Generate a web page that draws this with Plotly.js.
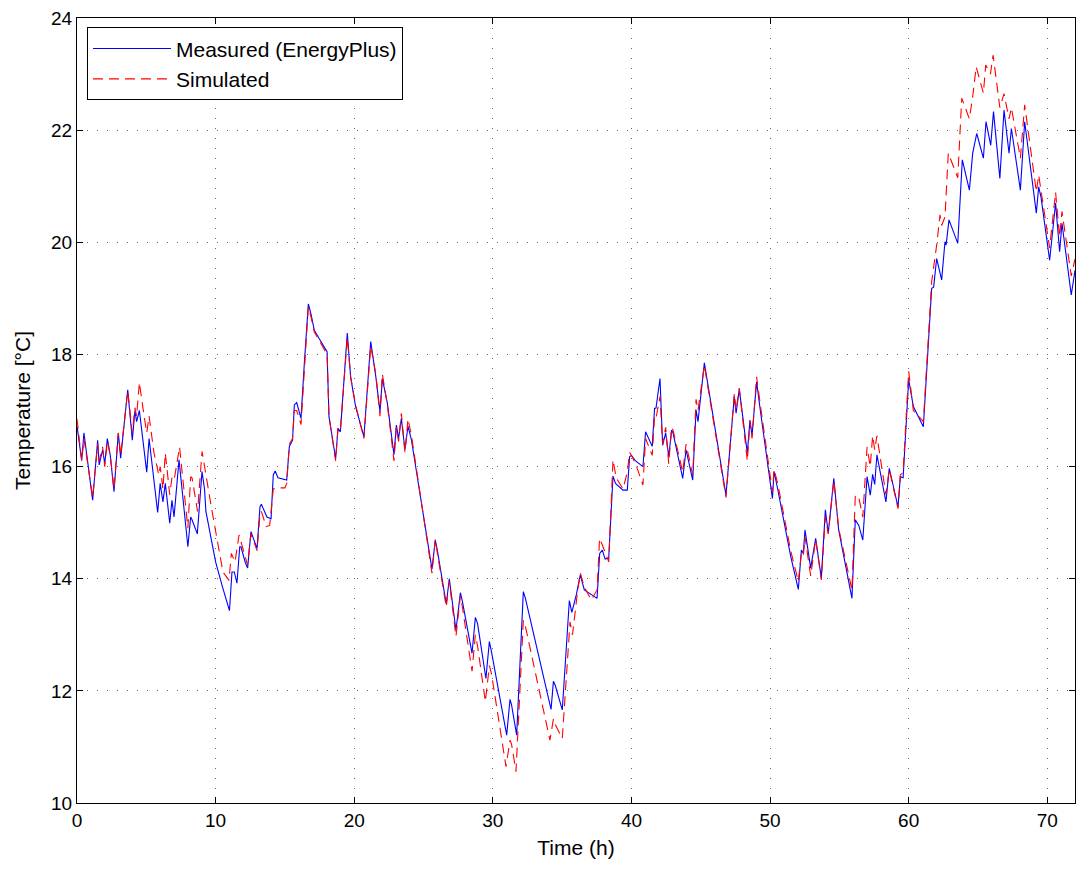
<!DOCTYPE html>
<html>
<head>
<meta charset="utf-8">
<script src="https://cdn.plot.ly/plotly-3.0.1.min.js"></script>
<style>html,body{margin:0;padding:0;background:#fff;}#chart{width:1078px;height:876px;}</style>
</head>
<body>
<div id="chart"></div>
<script>
const measuredTime = [0,0.34,0.5,1.13,1.49,1.6,1.85,2.0,2.19,2.4,2.67,2.98,3.15,3.66,3.99,4.18,4.3,4.5,5.03,5.2,5.82,6.0,6.2,6.37,6.69,6.85,7.0,7.36,8.0,8.2,8.3,8.68,9.02,9.2,9.3,10.0,10.5,11.0,11.18,11.35,11.54,11.74,11.83,12.14,12.31,12.55,12.99,13.2,13.3,13.7,14.0,14.16,14.3,14.5,15.13,15.32,15.55,15.68,15.85,16.16,16.4,16.69,16.9,17.12,17.48,18.04,18.18,18.42,18.66,18.83,19.0,19.5,19.74,20.1,20.7,21.19,21.56,21.86,22.03,22.39,22.87,23.04,23.2,23.4,23.66,23.88,24.13,25.61,25.85,26.0,26.64,26.86,27.34,27.66,27.8,28.5,28.74,28.9,29.5,29.75,29.9,31.0,31.24,31.35,31.72,32.2,32.35,34.2,34.37,34.5,35.01,35.52,35.7,36.02,36.31,36.6,37.52,37.71,37.9,38.1,38.36,38.67,38.85,39.39,39.7,39.87,40.0,40.3,40.83,41.02,41.5,41.67,41.77,42.06,42.25,42.47,42.69,42.9,43.0,43.7,43.94,44.42,44.66,44.8,45.26,46.82,47.42,47.55,47.78,48.36,48.55,48.7,49.03,49.3,50.17,50.29,50.55,51.49,52.04,52.26,52.4,52.52,52.93,53.29,53.7,53.99,54.2,54.6,54.95,55.91,56.15,56.4,56.69,57.0,57.23,57.4,57.55,57.71,58.36,58.6,59.23,59.4,59.6,60.0,60.34,61.06,61.66,61.8,62.02,62.38,62.62,62.7,62.91,63.54,63.87,64.38,64.62,64.91,65.39,65.58,65.92,66.12,66.58,66.88,67.24,67.41,68.06,68.37,69.21,69.38,69.55,70.17,70.6,70.89,71.06,71.73,72.0];
const measuredTemp = [16.72,16.11,16.6,15.4,16.47,16.03,16.3,16.05,16.5,16.2,15.55,16.6,16.15,17.37,16.47,17.0,16.8,17.0,15.9,16.5,15.18,15.7,15.37,15.7,14.99,15.4,15.1,16.12,14.57,15.1,15.05,14.8,15.91,15.6,15.2,14.3,13.85,13.43,14.12,14.12,13.92,14.57,14.57,14.29,14.19,14.84,14.54,15.28,15.33,15.1,15.07,15.85,15.92,15.8,15.76,16.36,16.47,17.1,17.14,16.86,17.84,18.9,18.7,18.43,18.28,18.05,16.89,16.47,16.14,16.68,16.62,18.38,17.6,17.07,16.53,18.23,17.6,16.98,17.57,17.13,16.21,16.74,16.5,16.86,16.3,16.72,16.47,14.17,14.69,14.5,13.55,14.0,13.08,13.75,13.6,12.67,13.31,13.2,12.22,12.88,12.7,11.21,11.85,11.75,11.21,13.77,13.65,11.67,12.17,12.1,11.66,13.61,13.4,13.71,14.07,13.8,13.65,14.45,14.51,14.35,14.37,15.83,15.7,15.58,15.58,16.18,16.2,16.1,16.0,16.62,16.36,17.04,17.04,17.57,16.38,16.6,16.18,16.65,16.6,15.79,16.3,15.76,17.01,16.8,17.85,15.49,17.25,16.95,17.38,16.24,16.83,16.55,17.51,17.0,15.43,15.91,15.6,14.4,13.81,14.51,14.45,14.87,14.19,14.72,14.01,15.23,14.81,15.79,14.87,13.65,15.05,14.95,14.69,15.82,15.49,15.86,15.68,16.21,15.37,15.97,15.28,15.82,15.8,17.55,17.07,16.71,19.18,19.2,19.71,19.33,20.01,19.95,20.4,19.98,21.47,20.93,21.59,21.94,21.5,22.15,21.73,22.33,21.14,22.36,21.59,22.03,20.93,22.15,20.52,20.99,20.8,19.68,20.7,19.83,20.34,19.06,19.5];

const simulatedTime = [0,0.34,0.5,1.13,1.49,1.6,1.85,2.0,2.19,2.4,2.67,2.98,3.15,3.66,3.99,4.18,4.3,4.5,4.8,5.03,5.2,5.55,5.9,6.0,6.2,6.37,6.69,6.85,7.0,7.4,8.0,8.2,8.3,8.7,9.02,9.2,9.69,10.53,10.97,11.13,11.4,11.69,11.9,12.3,12.55,12.99,13.2,13.3,13.65,13.9,14.16,14.4,15.0,15.13,15.32,15.55,15.68,15.85,16.16,16.4,16.69,16.9,17.12,17.48,18.04,18.18,18.42,18.66,18.83,19.0,19.5,19.74,20.1,20.7,21.19,21.56,21.86,22.03,22.39,22.87,23.04,23.2,23.4,23.66,23.88,24.13,25.61,25.85,26.0,26.64,26.86,27.34,27.66,27.8,28.5,28.74,28.9,29.46,29.75,29.9,30.95,31.24,31.35,31.67,32.2,32.35,34.12,34.37,34.5,35.01,35.57,35.75,36.1,36.31,36.6,37.1,37.52,37.7,37.9,38.36,38.67,38.9,39.39,39.7,39.87,40.0,40.3,40.83,41.02,41.5,41.67,41.77,42.06,42.25,42.47,42.69,42.9,43.0,43.7,43.94,44.42,44.66,44.8,45.26,46.82,47.42,47.55,47.78,48.36,48.55,48.7,49.03,49.3,50.17,50.29,50.55,51.49,52.04,52.26,52.4,52.52,52.93,53.29,53.7,53.99,54.2,54.6,54.95,55.91,56.15,56.4,56.69,57.0,57.23,57.4,57.55,57.71,58.36,58.6,59.23,59.4,59.6,60.0,60.34,61.06,61.66,62.02,62.26,62.38,62.62,62.86,63.54,63.83,64.38,64.62,64.87,65.39,65.56,65.9,66.09,66.58,66.88,67.24,67.41,68.06,68.37,69.21,69.38,70.17,70.6,70.89,71.06,71.73,72.0];
const simulatedTemp = [16.85,16.1,16.5,15.45,16.4,16.1,16.35,16.0,16.45,16.2,15.6,16.6,16.2,17.35,16.6,17.05,16.9,17.5,16.97,16.6,16.9,16.25,15.85,16.0,15.6,16.24,15.5,15.8,15.75,16.35,14.9,15.82,15.8,15.2,16.27,16.0,15.28,14.12,13.97,14.45,14.3,14.78,14.6,14.25,14.8,14.5,15.15,15.2,14.93,14.95,15.6,15.62,15.62,15.7,16.4,16.5,17.0,17.0,16.75,17.8,18.85,18.65,18.4,18.25,18.0,16.9,16.5,16.1,16.7,16.65,18.3,17.6,17.1,16.5,18.15,17.65,16.9,17.65,17.1,16.1,16.7,16.45,16.95,16.25,16.85,16.55,14.1,14.7,14.45,13.5,13.95,12.97,13.7,13.5,12.35,13.0,12.8,11.81,12.45,12.31,10.65,11.12,11.05,10.56,13.26,13.15,11.12,11.5,11.4,11.15,13.23,13.0,13.75,14.1,13.85,13.62,13.8,14.72,14.6,14.3,16.12,15.8,15.6,15.9,16.25,16.2,16.05,15.67,16.5,16.2,16.9,16.86,17.25,16.4,16.7,16.05,16.7,16.65,15.9,16.4,15.85,17.2,17.0,17.8,15.45,17.3,17.0,17.4,16.1,16.8,16.5,17.6,17.1,15.55,15.95,15.7,14.5,13.95,14.45,14.4,14.75,14.05,14.7,13.98,15.1,14.8,15.75,14.9,13.8,15.49,15.45,15.1,16.35,16.0,16.55,16.3,16.55,15.5,15.95,15.25,15.85,15.9,17.7,17.0,16.8,19.3,19.95,20.49,20.3,20.45,21.59,21.15,22.57,22.2,22.6,23.13,22.66,23.16,23.0,23.34,22.4,22.65,22.2,22.4,21.5,22.45,20.9,21.2,19.9,20.89,20.1,20.55,19.4,19.7];

const seriesNames = ['Measured (EnergyPlus)', 'Simulated'];
const xTicks = [0,10,20,30,40,50,60,70];
const yTicks = [10,12,14,16,18,20,22,24];

const FONT = 'Liberation Sans, Arial, Helvetica, sans-serif';

const traces = [
  {x: measuredTime, y: measuredTemp, name: seriesNames[0], type: 'scatter', mode: 'lines',
   line: {color: '#0000ff', width: 1.1}},
  {x: simulatedTime, y: simulatedTemp, name: seriesNames[1], type: 'scatter', mode: 'lines',
   line: {color: '#ff0000', width: 1.1, dash: '10px,6px'}}
];

const axisCommon = {
  showline: true, linecolor: '#000', linewidth: 1, mirror: 'ticks',
  ticks: 'inside', ticklen: 6, tickcolor: '#000', tickwidth: 1,
  showgrid: true, gridcolor: '#666', griddash: '1px,9px', gridwidth: 1,
  zeroline: false, tickfont: {family: FONT, size: 19, color: '#000'}
};

const layout = {
  width: 1078, height: 876,
  margin: {l: 77, r: 3, t: 18, b: 73},
  paper_bgcolor: '#fff', plot_bgcolor: '#fff',
  showlegend: true,
  legend: {x: 0.01, y: 0.988, xanchor: 'left', yanchor: 'top',
           bgcolor: '#fff', bordercolor: '#000', borderwidth: 1, itemwidth: 78,
           font: {family: FONT, size: 21, color: '#000'}, tracegroupgap: 0},
  xaxis: Object.assign({}, axisCommon, {range: [0, 72], tickvals: xTicks,
    title: {text: 'Time (h)', font: {family: FONT, size: 21, color: '#000'}, standoff: 10}}),
  yaxis: Object.assign({}, axisCommon, {range: [10, 24], tickvals: yTicks,
    title: {text: 'Temperature [°C]', font: {family: FONT, size: 21, color: '#000'}, standoff: 14}})
};

Plotly.newPlot('chart', traces, layout, {staticPlot: true, displayModeBar: false});
</script>
</body>
</html>
